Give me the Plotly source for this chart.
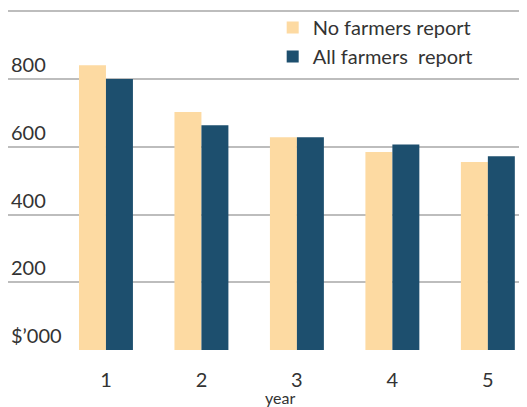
import plotly.graph_objects as go

years = [1, 2, 3, 4, 5]
year_labels = ["1", "2", "3", "4", "5"]
no_farmers = [841, 703, 628, 585, 555]
all_farmers = [800, 664, 628, 607, 572]
y_tickvals = [0, 200, 400, 600, 800, 1000]
y_ticktext = ["$\u2019000", "200", "400", "600", "800", ""]

FONT = "Lato"
TXT = "#333333"

fig = go.Figure()
fig.add_trace(go.Bar(x=years, y=no_farmers, name="No farmers report",
                     marker=dict(color="#FDDAA2", line=dict(width=0))))
fig.add_trace(go.Bar(x=years, y=all_farmers, name="All farmers  report",
                     marker=dict(color="#1D4F6E", line=dict(width=0))))

fig.update_layout(
    width=519, height=399,
    margin=dict(l=0, r=0, t=0, b=57),
    paper_bgcolor="white", plot_bgcolor="white",
    barmode="group", bargap=0.435, bargroupgap=0,
    font=dict(family=FONT, color=TXT),
    showlegend=True,
    legend=dict(x=0.51, y=1.0, xanchor="left", yanchor="top",
                font=dict(size=20, color=TXT), bgcolor="rgba(0,0,0,0)",
                tracegroupgap=0, itemwidth=30),
    xaxis=dict(range=[-0.026, 5.41], tickmode="array", tickvals=years,
               ticktext=year_labels, showgrid=False, zeroline=False,
               showline=False, ticks="", tickfont=dict(size=20, color=TXT),
               ticklabelstandoff=16),
    yaxis=dict(range=[0, 1010], tickmode="array", tickvals=y_tickvals,
               ticktext=y_ticktext, showgrid=True, gridcolor="#BDBDBD",
               gridwidth=2, zeroline=False, showline=False, ticks="",
               ticklabelposition="inside top",
               tickfont=dict(size=20, color=TXT)),
    annotations=[dict(text="year", x=0.524, y=-0.14, xref="paper", yref="paper",
                      xanchor="center", yanchor="middle", showarrow=False,
                      font=dict(size=16, color=TXT))],
)

fig.write_html("out.html")
